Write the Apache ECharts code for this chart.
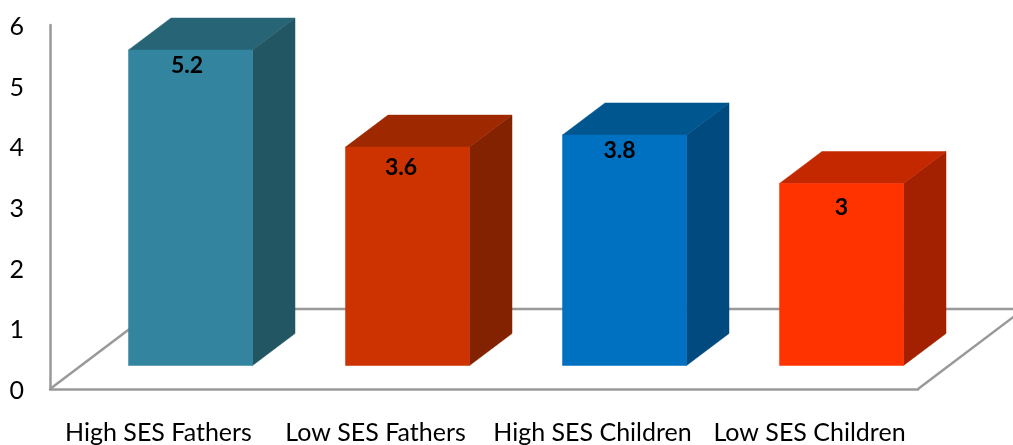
<!DOCTYPE html>
<html>
<head>
<meta charset="utf-8">
<style>html,body{margin:0;padding:0;background:#fff}#c{width:1013px;height:445px}</style>
<script src="https://cdn.jsdelivr.net/npm/echarts@6/dist/echarts.min.js"></script>
</head>
<body>
<div id="c"></div>
<script>
const categories = ['High SES Fathers', 'Low SES Fathers', 'High SES Children', 'Low SES Children'];
const values = [5.2, 3.6, 3.8, 3];
const tickMax = 6;

// Styling only
const faceColors = [
  {front:'#33859F', side:'#225663', top:'#276475'},
  {front:'#CC3300', side:'#822200', top:'#9E2900'},
  {front:'#0070C0', side:'#004A7F', top:'#00568F'},
  {front:'#FF3300', side:'#A32100', top:'#C42800'}
];
const labelNudge = [[-3.5,16],[-6.5,20],[-5,15.5],[0,24]];
const FLOOR_DX = 106, FLOOR_DY = -80;
const BAR_HALF = 62, FRONT_DX = 32, FRONT_DY = -23.5, DEPTH_DX = 42.5, DEPTH_DY = -32;
const AXIS = '#999999';
const FONT = 'Lato, Carlito, "Open Sans", sans-serif';

function floorItem(params, api) {
  const g = params.coordSys;
  const xl = g.x, xr = g.x + g.width, yb = g.y + g.height;
  const line = (x1,y1,x2,y2) => ({type:'line', shape:{x1,y1,x2,y2}, style:{stroke:AXIS, lineWidth:2.5}});
  return {type:'group', children:[
    line(xl, yb, xl+FLOOR_DX, yb+FLOOR_DY),
    line(xl+FLOOR_DX, yb+FLOOR_DY, xr+FLOOR_DX, yb+FLOOR_DY),
    line(xr, yb, xr+FLOOR_DX, yb+FLOOR_DY)
  ]};
}

function barItem(params, api) {
  const i = api.value(0), v = api.value(1);
  const top = api.coord([i, v]), base = api.coord([i, 0]);
  const c = faceColors[i];
  const l = top[0] + FRONT_DX - BAR_HALF, r = top[0] + FRONT_DX + BAR_HALF;
  const t = top[1] + FRONT_DY, b = base[1] + FRONT_DY;
  const poly = (points, fill) => ({type:'polygon', shape:{points}, style:{fill, stroke:fill, lineWidth:0.5}});
  return {type:'group', children:[
    poly([[r,t],[r+DEPTH_DX,t+DEPTH_DY],[r+DEPTH_DX,b+DEPTH_DY],[r,b]], c.side),
    poly([[l,t],[r,t],[r+DEPTH_DX,t+DEPTH_DY],[l+DEPTH_DX,t+DEPTH_DY]], c.top),
    poly([[l,t],[r,t],[r,b],[l,b]], c.front),
    {type:'text', z2:10, style:{
      text:String(v), x:(l+r)/2 + labelNudge[i][0], y:t + labelNudge[i][1],
      align:'center', verticalAlign:'middle',
      font:'bold 23px ' + FONT, fill:'#000'
    }}
  ]};
}

const chart = echarts.init(document.getElementById('c'), null, {renderer:'canvas'});
chart.setOption({
  animation:false,
  backgroundColor:'#fff',
  grid:{left:50, right:95, top:25, bottom:54},
  xAxis:{
    type:'category', data:categories,
    axisTick:{show:false},
    axisLine:{lineStyle:{color:AXIS, width:2.5}},
    axisLabel:{color:'#000', fontSize:25, fontFamily:FONT, margin:31, interval:0}
  },
  yAxis:{
    type:'value', min:0, max:tickMax, interval:1,
    splitLine:{show:false},
    axisTick:{show:false},
    axisLine:{show:true, lineStyle:{color:AXIS, width:2.5}},
    axisLabel:{color:'#000', margin:26, formatter:'{v|{value}}',
      rich:{v:{color:'#000', fontSize:25, fontFamily:FONT, height:25, lineHeight:29, verticalAlign:'bottom'}}}
  },
  series:[
    {type:'custom', coordinateSystem:'cartesian2d', clip:false, silent:true, z:1,
     data:[[0,0]], renderItem:floorItem},
    {type:'custom', coordinateSystem:'cartesian2d', clip:false, z:2,
     encode:{x:0,y:1},
     data:values.map((v,i)=>[i,v]), renderItem:barItem}
  ]
});
</script>
</body>
</html>
